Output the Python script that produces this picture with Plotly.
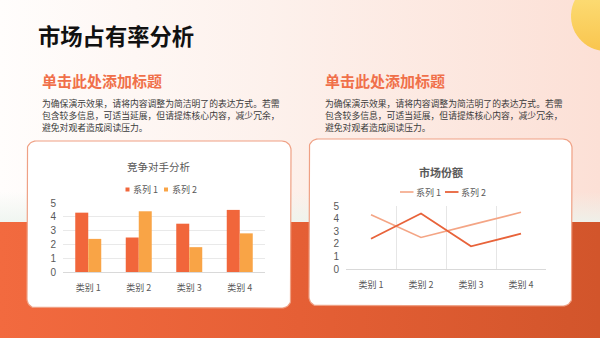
import numpy as np
import plotly.graph_objects as go

W, H = 600, 338

# ---- data ----
categories = ["类别 1", "类别 2", "类别 3", "类别 4"]
series_names = ["系列 1", "系列 2"]
bar_series_1 = [4.3, 2.5, 3.5, 4.5]
bar_series_2 = [2.4, 4.4, 1.8, 2.8]
line_series_1 = [4.3, 2.5, 3.5, 4.5]
line_series_2 = [2.4, 4.4, 1.8, 2.8]
y_ticks = [0, 1, 2, 3, 4, 5]

# ---- text ----
page_title = "市场占有率分析"
section_title = "单击此处添加标题"
body_lines = [
    "为确保演示效果，请将内容调整为简洁明了的表达方式。若需",
    "包含较多信息，可适当延展，但请提炼核心内容，减少冗余，",
    "避免对观者造成阅读压力。",
]
bar_title = "竞争对手分析"
line_title = "市场份额"

FONT = "Noto Sans CJK SC"
NUM_FONT = "Liberation Sans, Noto Sans CJK SC"
C_BAR1 = "#F1663B"
C_BAR2 = "#F9A446"
C_LINE1 = "#F4A585"
C_LINE2 = "#E8633A"
C_TICK = "#595959"


def rounded_rect(x0, y0, x1, y1, r, n=10):
    xs, ys = [], []
    corners = [
        (x1 - r, y0 + r, -np.pi / 2, 0),
        (x1 - r, y1 - r, 0, np.pi / 2),
        (x0 + r, y1 - r, np.pi / 2, np.pi),
        (x0 + r, y0 + r, np.pi, 1.5 * np.pi),
    ]
    for cx, cy, a0, a1 in corners:
        t = np.linspace(a0, a1, n)
        xs += list(cx + r * np.cos(t))
        ys += list(cy + r * np.sin(t))
    xs.append(xs[0])
    ys.append(ys[0])
    return xs, ys


def circle(cx, cy, r, n=60):
    t = np.linspace(0, 2 * np.pi, n)
    return list(cx + r * np.cos(t)), list(cy + r * np.sin(t))


fig = go.Figure()

# ---- page background (pixel-space axis x/y) ----
bg = dict(xaxis="x", yaxis="y", mode="none", fill="toself", hoverinfo="skip", showlegend=False)

fig.add_trace(go.Scatter(
    x=[0, W, W, 0, 0], y=[0, 0, 224, 224, 0],
    fillgradient=dict(type="horizontal",
                      colorscale=[[0, "#FFFDFC"], [0.45, "#FDF1EC"], [1, "#FCE0D6"]]),
    **bg))
fig.add_trace(go.Scatter(
    x=[0, W, W, 0, 0], y=[192, 192, 224, 224, 192],
    fillgradient=dict(type="vertical",
                      colorscale=[[0, "rgba(236,244,238,0.85)"], [1, "rgba(236,244,238,0)"]]),
    **bg))
fig.add_trace(go.Scatter(
    x=[0, W, W, 0, 0], y=[222, 222, H, H, 222],
    fillgradient=dict(type="horizontal",
                      colorscale=[[0, "#F26A3F"], [0.5, "#E55F35"], [1, "#D2552B"]]),
    **bg))
cx, cy = circle(606, 16, 35)
fig.add_trace(go.Scatter(
    x=cx, y=cy,
    fillgradient=dict(type="vertical", colorscale=[[0, "#F9C54E"], [1, "#FDE27E"]]),
    **bg))

# cards
for (x0, y0, x1, y1) in [(27, 141, 291, 308), (309, 139, 572, 306)]:
    rx, ry = rounded_rect(x0, y0, x1, y1, 9)
    fig.add_trace(go.Scatter(
        x=rx, y=ry, xaxis="x", yaxis="y", mode="lines", fill="toself",
        fillcolor="#FFFFFF", line=dict(color="#EFA084", width=1.2),
        hoverinfo="skip", showlegend=False))

# ---- bar chart ----
fig.add_trace(go.Bar(x=categories, y=bar_series_1, name=series_names[0],
                     marker=dict(color=C_BAR1, line=dict(width=0)),
                     xaxis="x2", yaxis="y2", showlegend=False))
fig.add_trace(go.Bar(x=categories, y=bar_series_2, name=series_names[1],
                     marker=dict(color=C_BAR2, line=dict(width=0)),
                     xaxis="x2", yaxis="y2", showlegend=False))

# ---- line chart ----
fig.add_trace(go.Scatter(x=categories, y=line_series_1, name=series_names[0], mode="lines",
                         line=dict(color=C_LINE1, width=1.6),
                         xaxis="x3", yaxis="y3", showlegend=False))
fig.add_trace(go.Scatter(x=categories, y=line_series_2, name=series_names[1], mode="lines",
                         line=dict(color=C_LINE2, width=1.8),
                         xaxis="x3", yaxis="y3", showlegend=False))

ann = []


def text(x, y, s, size, color, anchor="left", bold=False):
    ann.append(dict(x=x, y=y, xref="x", yref="y", text=f"<b>{s}</b>" if bold else s,
                    showarrow=False, xanchor=anchor, yanchor="middle",
                    font=dict(family=FONT, size=size, color=color)))


text(36, 35, page_title, 22.3, "#111111", bold=True)
for x0 in (40, 323):
    text(x0, 80, section_title, 15, "#F0704A", bold=True)
    for i, line in enumerate(body_lines):
        text(x0, 103 + 12 * i, line, 8.8, "#3A3A3A")

text(159, 166, bar_title, 10.5, C_TICK, anchor="center")
text(441, 172, line_title, 11, C_TICK, anchor="center", bold=True)

# legend keys
shapes = []
text(131, 189.5, series_names[0], 9, C_TICK)
text(170, 189.5, series_names[1], 9, C_TICK)
shapes.append(dict(type="rect", xref="x", yref="y", x0=125.5, x1=129.5, y0=187.5, y1=191.5,
                   fillcolor=C_BAR1, line=dict(width=0)))
shapes.append(dict(type="rect", xref="x", yref="y", x0=164, x1=168, y0=187.5, y1=191.5,
                   fillcolor=C_BAR2, line=dict(width=0)))
text(414, 192, series_names[0], 9, C_TICK)
text(459, 192, series_names[1], 9, C_TICK)
shapes.append(dict(type="line", xref="x", yref="y", x0=400, x1=413.5, y0=192, y1=192,
                   line=dict(color=C_LINE1, width=1.6)))
shapes.append(dict(type="line", xref="x", yref="y", x0=445, x1=458.5, y0=192, y1=192,
                   line=dict(color=C_LINE2, width=1.8)))

tick_font = dict(family=FONT, size=9, color=C_TICK)

fig.update_layout(
    width=W, height=H, margin=dict(l=0, r=0, t=0, b=0),
    paper_bgcolor="#FFFFFF", plot_bgcolor="rgba(0,0,0,0)",
    template="none",
    barmode="group", bargap=0.485, bargroupgap=0,
    font=dict(family=FONT),
    annotations=ann, shapes=shapes,
    xaxis=dict(domain=[0, 1], range=[0, W], visible=False, fixedrange=True),
    yaxis=dict(domain=[0, 1], range=[H, 0], visible=False, fixedrange=True),
    xaxis2=dict(domain=[63 / W, 265 / W], anchor="y2", type="category",
                showgrid=False, showline=True, linecolor="#D9D9D9", linewidth=1,
                ticks="", tickfont=tick_font, ticklabelstandoff=7, zeroline=False),
    yaxis2=dict(domain=[1 - 272 / H, 1 - 203 / H], anchor="x2", range=[0, 5],
                tickvals=y_ticks, showgrid=True, gridcolor="#E9E9E9", gridwidth=1,
                showline=False, zeroline=False, ticks="",
                tickfont=dict(family=NUM_FONT, size=10, color=C_TICK), ticklabelstandoff=6),
    xaxis3=dict(domain=[346 / W, 546 / W], anchor="y3", type="category",
                range=[-0.5, 3.5], tickson="boundaries",
                showgrid=True, gridcolor="#E6E6E6", gridwidth=1,
                showline=True, linecolor="#D9D9D9", linewidth=1,
                ticks="", tickfont=tick_font, ticklabelstandoff=7, zeroline=False),
    yaxis3=dict(domain=[1 - 269 / H, 1 - 206 / H], anchor="x3", range=[0, 5],
                tickvals=y_ticks, showgrid=False, showline=False, zeroline=False,
                ticks="", tickfont=dict(family=NUM_FONT, size=10, color=C_TICK),
                ticklabelstandoff=6),
)

fig.write_html("out.html")
